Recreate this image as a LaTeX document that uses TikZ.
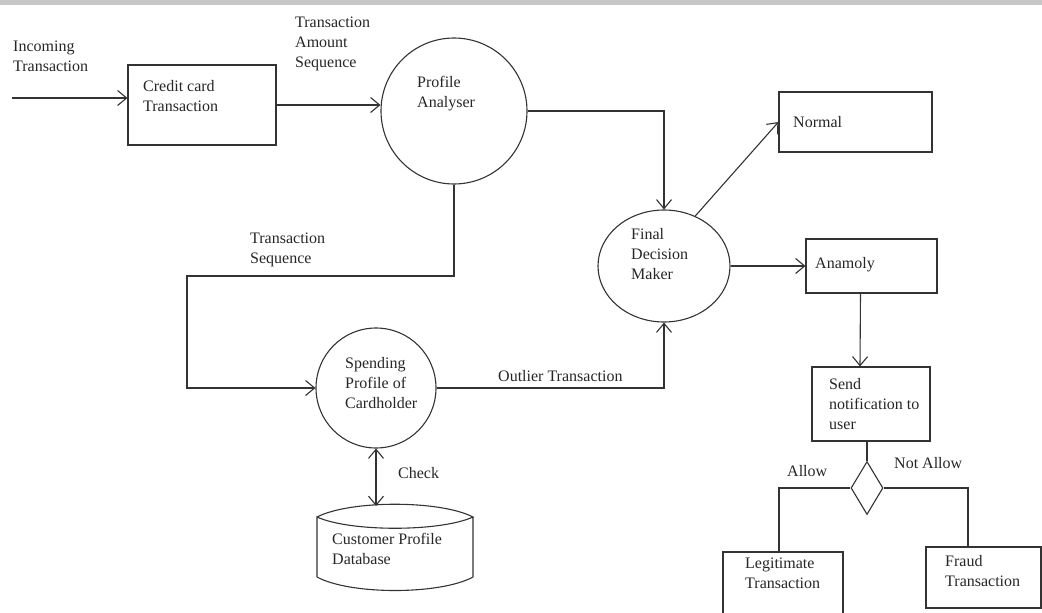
\documentclass[tikz,border=0pt]{standalone}
\usepackage{fontspec}
\setmainfont{Liberation Serif}
\usetikzlibrary{arrows.meta,shapes.geometric}
\begin{document}
\begin{tikzpicture}[x=1pt,y=-1pt,
  line/.style={draw=black!80, line width=1.1pt},
  tip/.style={},
  arr/.style={line, -{Straight Barb[length=9pt,width=15pt]}},
  darr/.style={line, {Straight Barb[length=9pt,width=15pt]}-{Straight Barb[length=9pt,width=15pt]}},
  box/.style={line, rectangle, inner sep=0pt},
  proc/.style={line, circle, inner sep=0pt},
  txt/.style={anchor=north west, inner sep=0pt, align=left, font=\fontsize{16}{20}\selectfont, text=black!85}
]
\useasboundingbox (0,0) rectangle (1042,613);
\fill[black!22] (0,0) rectangle (1042,5);

% shapes
\node[box, minimum width=148pt, minimum height=80pt] (cc) at (202,105) {};
\node[proc, minimum size=146pt] (pa) at (454,111) {};
\node[line, ellipse, inner sep=0pt, minimum width=132pt, minimum height=112pt] (fdm) at (664,266) {};
\node[proc, minimum size=120pt] (sp) at (376,388) {};
\node[box, minimum width=153pt, minimum height=60pt] (nm) at (855.5,122) {};
\node[box, minimum width=131pt, minimum height=54pt] (an) at (871.5,266) {};
\node[box, minimum width=118pt, minimum height=74pt] (sn) at (871,404) {};
\node[line, diamond, inner sep=0pt, aspect=0.6, minimum width=32pt, minimum height=53pt] (dm) at (867,488) {};
\node[box, minimum width=120pt, minimum height=70pt] (lg) at (783,587) {};
\node[box, minimum width=115pt, minimum height=61pt] (fr) at (983.5,577.5) {};

% database
\draw[line] (317,517) .. controls (350,500) and (440,500) .. (473,517)
            .. controls (440,532) and (350,532) .. (317,517) -- (317,577)
            .. controls (350,595) and (440,595) .. (473,577) -- (473,517);
\coordinate (db) at (376,506);

% texts
\node[txt] (tIn) at (13,41) {Incoming\\Transaction};
\node[txt] (tTAS) at (295,17) {Transaction\\Amount\\Sequence};
\node[txt] (tCC) at (143,80) {Credit card\\Transaction};
\node[txt] (tPA) at (417,76) {Profile\\Analyser};
\node[txt] (tNm) at (793,116) {Normal};
\node[txt] (tTS) at (250,233) {Transaction\\Sequence};
\node[txt] (tFD) at (631,228) {Final\\Decision\\Maker};
\node[txt] (tAn) at (815,257) {Anamoly};
\node[txt] (tSp) at (345,357) {Spending\\Profile of\\Cardholder};
\node[txt] (tOT) at (498,370) {Outlier Transaction};
\node[txt] (tCh) at (398,467) {Check};
\node[txt] (tDB) at (332,533) {Customer Profile\\Database};
\node[txt] (tSn) at (829,378) {Send\\notification to\\user};
\node[txt] (tAl) at (787,465) {Allow};
\node[txt] (tNA) at (894,457) {Not Allow};
\node[txt] (tLg) at (745,558) {Legitimate\\Transaction};
\node[txt] (tFr) at (945,555) {Fraud\\Transaction};

% connectors
\coordinate (in) at (12,98);
\coordinate (c1) at (187,276);
\draw[arr] (in) -- (in -| cc.west);
\draw[arr] (cc.east) -- (cc.east -| pa.west);
\draw[arr] (pa.east) -| (fdm.north);
\draw[arr] (pa.south) |- (c1) |- (sp.west);
\draw[arr] (sp.east) -| (fdm.south);
\draw[darr] (sp.south) -- (db);
\draw[arr] (fdm.58) -- (nm.west);
\draw[arr] (fdm.east) -- (an.west);
\draw[arr] ([xshift=-11pt]an.south) -- ([xshift=-11pt]sn.north);
\draw[line] (dm.north |- sn.south) -- (dm.north);
\draw[line] (dm.west) -| ([xshift=-4pt]lg.north);
\draw[line] (dm.east) -| ([xshift=-15.5pt]fr.north);
\end{tikzpicture}
\end{document}
